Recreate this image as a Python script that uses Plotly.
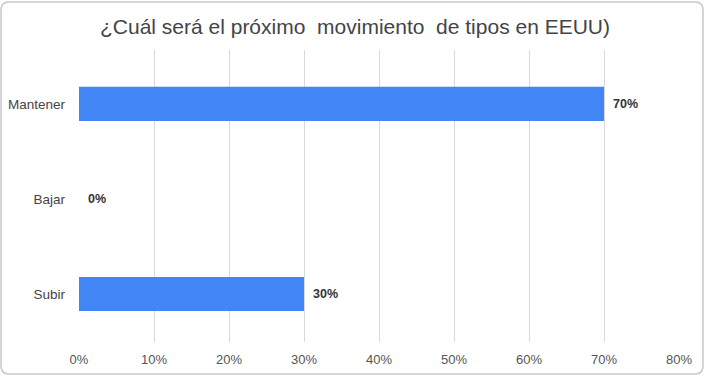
import plotly.graph_objects as go

categories = ["Subir", "Bajar", "Mantener"]
values = [0.30, 0.0, 0.70]
labels = ["30%", "0%", "70%"]
tick_vals = [0, 0.1, 0.2, 0.3, 0.4, 0.5, 0.6, 0.7, 0.8]
tick_text = ["0%", "10%", "20%", "30%", "40%", "50%", "60%", "70%", "80%"]
title_text = "¿Cuál será el próximo\u00a0 movimiento\u00a0 de tipos en EEUU)"

FONT = "Liberation Sans, Arial, sans-serif"

fig = go.Figure()
fig.add_trace(go.Bar(
    x=values, y=categories, orientation="h",
    marker=dict(color="#4285F4", line=dict(width=0)),
    width=0.36, hoverinfo="skip",
))

for v, c, t in zip(values, categories, labels):
    fig.add_annotation(x=v, y=c, text="<b>" + t + "</b>", showarrow=False,
                       xanchor="left", yanchor="middle", xshift=7,
                       font=dict(family=FONT, size=12.5, color="#333333"))

W, H = 706, 377
r = 8
x0, y0, x1, y1 = 1, 2, 703, 374
ml, mr, mt, mb = 79, 27, 50, 35
pw, ph = W - ml - mr, H - mt - mb
def px(x): return (x - ml) / pw
def py(y): return 1 - (y - mt) / ph
path = (f"M {px(x0+r)},{py(y0)} L {px(x1-r)},{py(y0)} Q {px(x1)},{py(y0)} {px(x1)},{py(y0+r)} "
        f"L {px(x1)},{py(y1-r)} Q {px(x1)},{py(y1)} {px(x1-r)},{py(y1)} "
        f"L {px(x0+r)},{py(y1)} Q {px(x0)},{py(y1)} {px(x0)},{py(y1-r)} "
        f"L {px(x0)},{py(y0+r)} Q {px(x0)},{py(y0)} {px(x0+r)},{py(y0)} Z")
fig.add_shape(type="path", path=path, xref="paper", yref="paper",
              line=dict(color="#c8c8c8", width=1.5), layer="below")

fig.update_layout(
    width=W, height=H,
    margin=dict(l=ml, r=mr, t=mt, b=mb, autoexpand=False),
    paper_bgcolor="white", plot_bgcolor="white",
    showlegend=False,
    title=dict(text=title_text, x=355 / W, xref="container", xanchor="center",
               y=1 - 27 / H, yref="container", yanchor="middle",
               font=dict(family=FONT, size=21, color="#444444")),
    xaxis=dict(range=[0, 0.8], tickvals=tick_vals, ticktext=tick_text,
               showgrid=True, gridcolor="#d9d9d9", gridwidth=1,
               zeroline=False, showline=False, ticks="", automargin=False,
               tickfont=dict(family=FONT, size=13, color="#555555"),
               ticklabelstandoff=8, fixedrange=True),
    yaxis=dict(categoryorder="array", categoryarray=categories,
               range=[-0.505, 2.568], showgrid=False, zeroline=False,
               showline=False, ticks="", automargin=False,
               tickfont=dict(family=FONT, size=13.5, color="#444444"),
               ticklabelstandoff=13, fixedrange=True),
)

fig.write_html("out.html", config={"displayModeBar": False},
               post_script="document.body.style.margin='0';document.body.style.overflow='hidden';")
